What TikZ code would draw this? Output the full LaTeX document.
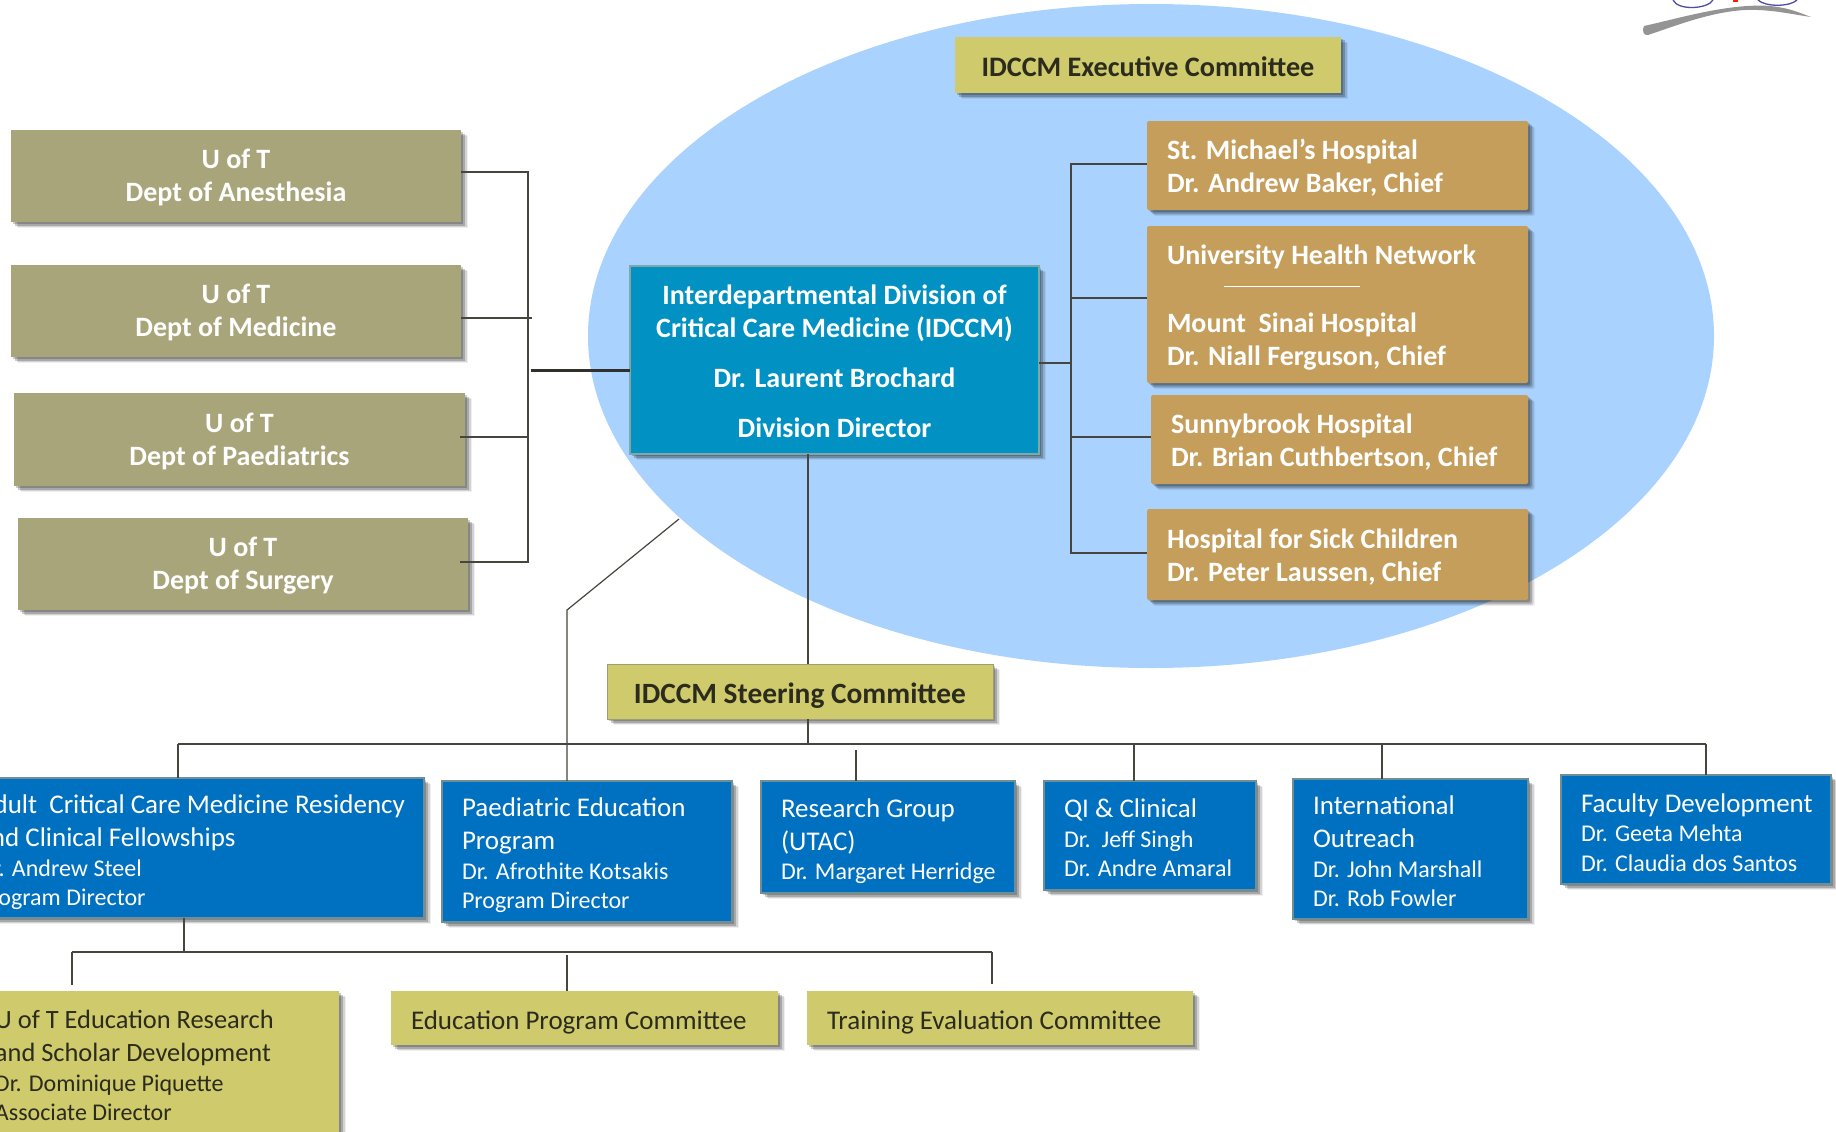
\documentclass[tikz,border=0pt]{standalone}
\usepackage{fontspec}
\setmainfont{Carlito}
\usetikzlibrary{shadows}
\definecolor{ellipsec}{HTML}{A9D2FE}
\definecolor{olive}{HTML}{A9A57B}
\definecolor{teal}{HTML}{0191C2}
\definecolor{tealb}{HTML}{7FA9A8}
\definecolor{gold}{HTML}{C59E5C}
\definecolor{yel}{HTML}{CFCA6C}
\definecolor{blu}{HTML}{0070C0}
\definecolor{blub}{HTML}{6F8F95}
\definecolor{linec}{HTML}{46463E}
\definecolor{darkt}{HTML}{2B2B1E}
\pgfdeclareradialshading{bgrad}{\pgfpoint{0bp}{0bp}}{
 color(0bp)=(white); color(38.5bp)=(white); color(49bp)=(black!11); color(50bp)=(black!11)}
\newcommand{\pp}{\fontsize{24}{29}\selectfont}
\newcommand{\nl}{\\[-3.5pt]}
\tikzset{
 softshadow/.style={
   general shadow={shadow xshift=7pt,shadow yshift=-6pt,fill=black,opacity=.06},
   general shadow={shadow xshift=5.5pt,shadow yshift=-5pt,fill=black,opacity=.12},
   general shadow={shadow xshift=4pt,shadow yshift=-3.5pt,fill=black,opacity=.2},
   general shadow={shadow xshift=2pt,shadow yshift=-2pt,fill=black,opacity=.2}},
 orgbox/.style={rectangle,inner ysep=0pt,inner xsep=0pt,outer sep=0pt,softshadow},
 ctr/.style={align=flush center},
 lft/.style={align=flush left,execute at begin node={\leftskip=20pt\relax}},
 down/.style={execute at begin node={\rule{0pt}{\dimexpr20pt+2\dimexpr#1\relax\relax}}},
 oliveb/.style={orgbox,ctr,down=1.2pt,fill=olive,text=white,font=\fontsize{28}{33}\selectfont\bfseries},
 mainb/.style={orgbox,ctr,down=0.6pt,fill=teal,draw=tealb,line width=1.6pt,text=white,font=\fontsize{28}{33}\selectfont\bfseries},
 goldb/.style={orgbox,lft,down=2.4pt,fill=gold,rounded corners=1.5pt,text=white,font=\fontsize{28}{33}\selectfont\bfseries},
 commb/.style={orgbox,ctr,down=1.2pt,fill=yel,text=darkt,font=\fontsize{28.2}{33}\selectfont\bfseries},
 steerb/.style={orgbox,ctr,down=4.7pt,fill=yel,draw=gray!60!yel,line width=1pt,text=darkt,font=\fontsize{29.4}{33}\selectfont\bfseries},
 blueb/.style={orgbox,lft,fill=blu,draw=blub,line width=1.2pt,text=white,font=\fontsize{27}{33}\selectfont},
 yelb/.style={orgbox,lft,fill=yel,text=darkt,font=\fontsize{27}{33}\selectfont},
 conn/.style={draw=linec,line width=1.2pt},
 thickconn/.style={draw=linec!70!black,line width=3pt},
}
\newcommand{\bx}[7]{%
 \pgfmathsetmacro{\bw}{#4-#2}\pgfmathsetmacro{\bh}{#5-#3}%
 \pgfmathsetmacro{\cx}{(#2+#4)/2}\pgfmathsetmacro{\cy}{(#3+#5)/2}%
 \node[#6,minimum width=\bw pt,minimum height=\bh pt,text width=\bw pt] (#1) at (\cx,\cy) {#7};}
\begin{document}
\begin{tikzpicture}[x=1pt,y=-1pt]
\useasboundingbox (0,0) rectangle (1836,1132);
\clip (0,0) rectangle (1836,1132);
\fill[white] (0,0) rectangle (1836,1132);
\shade[shading=bgrad] (700,566) circle (1300);
\fill[ellipsec] (1151,336) ellipse [x radius=563,y radius=332];
% logo
\fill[black!42] (1644,26) .. controls (1680,18) and (1730,3) .. (1770,6) .. controls (1790,8) and (1800,13) .. (1811,17) .. controls (1790,14) and (1770,9) .. (1745,10) .. controls (1710,12) and (1675,26) .. (1648,35) .. controls (1643,36) and (1642,30) .. (1644,26) -- cycle;
\draw[blue!50!black!70,line width=1.3pt] (1673,0) .. controls (1678,11) and (1708,9) .. (1713,0);
\draw[blue!50!black!70,line width=1.3pt] (1758,0) .. controls (1765,7) and (1790,7) .. (1797,0);
\fill[red!80!orange] (1733,0) rectangle (1738,2);
% boxes
\bx{anes}{11}{130}{461}{222}{oliveb}{U of T\\Dept of Anesthesia}
\bx{medi}{11}{265}{461}{357}{oliveb}{U of T\\Dept of Medicine}
\bx{paed}{14}{393}{465}{486}{oliveb}{U of T\\Dept of Paediatrics}
\bx{surg}{18}{518}{468}{610}{oliveb}{U of T\\Dept of Surgery}
\bx{exec}{955}{37}{1341}{93}{commb}{IDCCM Executive Committee}
\bx{smh}{1147}{121}{1528}{210}{goldb}{St. Michael’s Hospital\\Dr. Andrew Baker, Chief}
\bx{uhn}{1147}{226}{1528}{383}{goldb}{University Health Network\\[35pt]Mount\ \ Sinai Hospital\\Dr. Niall Ferguson, Chief}
\bx{sunny}{1151}{395}{1528}{484}{goldb}{Sunnybrook Hospital\\Dr. Brian Cuthbertson, Chief}
\bx{sick}{1147}{509}{1528}{600}{goldb}{Hospital for Sick Children\\Dr. Peter Laussen, Chief}
\bx{main}{630}{266}{1039}{454}{mainb}{Interdepartmental Division of\\Critical Care Medicine (IDCCM)\\[17pt]Dr. Laurent Brochard\\[17pt]Division Director}
\bx{steer}{607}{664}{993}{719}{steerb}{IDCCM Steering Committee}
\bx{adult}{-42}{778}{424}{918}{blueb,down=4pt}{Adult\ \ Critical Care Medicine Residency\\and Clinical Fellowships\nl{\pp Dr. Andrew Steel}\nl{\pp Program Director}}
\bx{pedu}{442}{781}{732}{922}{blueb,down=3.5pt}{Paediatric Education\\Program\nl{\pp Dr. Afrothite Kotsakis}\nl{\pp Program Director}}
\bx{rsrch}{761}{781}{1015}{893}{blueb,down=3.5pt}{Research Group\\(UTAC)\nl{\pp Dr. Margaret Herridge}}
\bx{qi}{1044}{781}{1256}{890}{blueb,down=2pt}{QI \& Clinical\nl{\pp Dr.\ \ Jeff Singh}\nl{\pp Dr. Andre Amaral}}
\bx{intl}{1293}{779}{1528}{919}{blueb,down=2pt}{International\\Outreach\nl{\pp Dr. John Marshall}\nl{\pp Dr. Rob Fowler}}
\bx{fac}{1561}{775}{1831}{884}{blueb,down=2.5pt}{Faculty Development\nl{\pp Dr. Geeta Mehta}\nl{\pp Dr. Claudia dos Santos}}
\bx{schol}{-25}{991}{339}{1140}{yelb,font=\fontsize{26.4}{33}\selectfont}{U of T Education Research\\and Scholar Development\nl{\pp Dr. Dominique Piquette}\nl{\pp Associate Director}}
\bx{epc}{391}{991}{778}{1045}{yelb,down=3.5pt}{Education Program Committee}
\bx{tec}{807}{991}{1193}{1045}{yelb,down=3.5pt}{Training Evaluation Committee}
% junctions
\coordinate (lt) at (528,172);
\coordinate (lm) at (528,318);
\coordinate (lp) at (528,437);
\coordinate (lb) at (528,562);
\coordinate (lj) at (531,370);
\coordinate (rt) at (1071,164);
\coordinate (ru) at (1071,298);
\coordinate (rm) at (1071,363);
\coordinate (rs) at (1071,437);
\coordinate (rb) at (1071,553);
\coordinate (hl) at (178,744);
\coordinate (hr) at (1706,744);
\coordinate (dg) at (679,519);
\coordinate (dh) at (567,610);
\coordinate (lh) at (72,952);
\coordinate (lr) at (992,952);
\coordinate (ul) at (1224,286);
\coordinate (ur) at (1360,286);
\coordinate (st) at (808,454);
\coordinate (rg) at (856,750);
\coordinate (qg) at (1134,744);
\coordinate (ig) at (1382,744);
\coordinate (as) at (184,918);
\coordinate (ld) at (72,985);
\coordinate (ed) at (567,955);
\coordinate (td) at (992,984);
% connectors
\draw[conn] (anes.east |- lt) -- (lt) -- (lb) -- ([xshift=-8pt]surg.east |- lb);
\draw[conn] (medi.east |- lm) -- ++(71,0);
\draw[conn] ([xshift=-5pt]paed.east |- lp) -- (lp);
\draw[thickconn] (lj) -- (main.west |- lj);
\draw[conn] (smh.west |- rt) -- (rt) -- (rb) -- (sick.west |- rb);
\draw[conn] (uhn.west |- ru) -- (ru);
\draw[conn] (sunny.west |- rs) -- (rs);
\draw[conn] (main.east |- rm) -- (rm);
\draw[conn] (st) -- (st |- steer.north);
\draw[conn] (st |- steer.south) -- (st |- hl);
\draw[conn] (hl) -- (hr);
\draw[conn] (hl) -- (hl |- adult.north);
\draw[conn] (dg) -- (dh) -- (dh |- pedu.north);
\draw[conn] (rg) -- (rg |- rsrch.north);
\draw[conn] (qg) -- (qg |- qi.north);
\draw[conn] (ig) -- (ig |- intl.north);
\draw[conn] (hr) -- (hr |- fac.north);
\draw[conn] (as) -- (as |- lh);
\draw[conn] (lh) -- (lr);
\draw[conn] (lh) -- (ld);
\draw[conn] (ed) -- (ed |- epc.north);
\draw[conn] (lr) -- (td);
\draw[draw=white,line width=1pt] (ul) -- (ur);
\end{tikzpicture}
\end{document}
